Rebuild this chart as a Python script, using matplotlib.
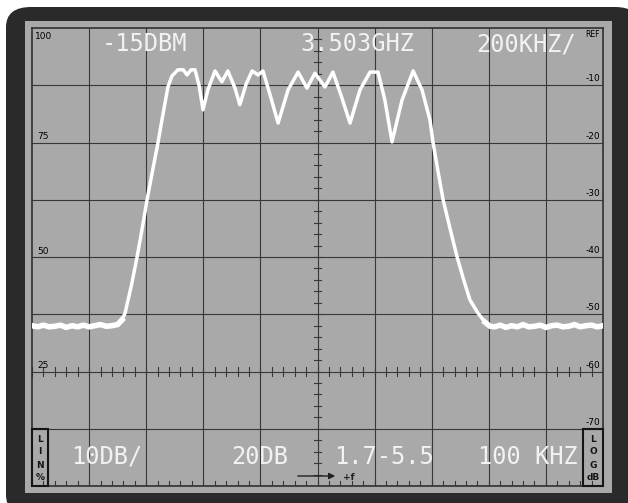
import matplotlib
matplotlib.use("Agg")
import matplotlib.pyplot as plt
from matplotlib.patches import FancyBboxPatch, Rectangle, FancyArrowPatch
import numpy as np

# trace: frequency offset from 3.503 GHz (kHz), level rel. REF (dB)
noise_left_khz = [-1000, -980, -960, -940, -920, -900, -880, -860, -840, -820,
                  -800, -780, -760, -740, -720, -700, -685]
noise_left_db = [-52.0, -52.2, -51.9, -52.2, -52.1, -51.9, -52.3, -52.0, -52.2,
                 -51.9, -52.2, -52.0, -51.8, -52.1, -52.0, -51.8, -51.0]

signal_khz = [-685, -674, -652, -632, -614, -597, -578, -559, -545, -524, -510,
              -489, -470, -457, -443, -429, -415, -401, -384, -359, -335, -314,
              -289, -272, -250, -229, -208, -191, -166, -138, -103, -68, -37,
              -9, 26, 54, 82, 114, 149, 184, 212, 236, 261, 296, 335, 366,
              394, 405, 422, 440, 464, 489, 512, 534, 562, 587]
signal_db = [-51.0, -49.8, -45.0, -40.0, -35.0, -30.0, -25.0, -20.1, -16.1,
             -10.3, -8.4, -7.3, -7.3, -8.2, -7.3, -7.3, -10.0, -14.3, -10.8,
             -7.5, -9.4, -7.5, -10.5, -13.4, -9.8, -7.5, -8.2, -7.5, -11.7,
             -16.6, -10.8, -7.7, -10.5, -7.9, -10.3, -7.7, -11.7, -16.6,
             -10.8, -7.7, -7.7, -12.6, -19.9, -12.6, -7.5, -10.8, -16.1,
             -20.1, -25.0, -30.0, -35.0, -40.0, -44.0, -47.5, -49.8, -51.4]

noise_right_khz = [587, 604, 620, 640, 660, 680, 700, 720, 740, 760, 780, 800,
                   820, 840, 860, 880, 900, 920, 940, 960, 980, 1000]
noise_right_db = [-51.4, -52.1, -52.2, -51.9, -52.3, -52.0, -52.2, -51.8,
                  -52.2, -52.1, -51.9, -52.3, -52.0, -51.9, -52.2, -52.1,
                  -51.8, -52.2, -52.0, -51.9, -52.2, -52.0]

ref_labels = ["-10", "-20", "-30", "-40", "-50", "-60", "-70"]
lin_labels = ["100", "75", "50", "25"]

W, H = 628, 503
fig = plt.figure(figsize=(W / 100, H / 100), dpi=100)
fig.patch.set_facecolor("white")


def fx(px):
    return px / W


def fy(py):
    return 1 - py / H


# dark bezel and grey screen
fig.patches.append(FancyBboxPatch((fx(6), fy(515)), fx(640) - fx(6), fy(7) - fy(515),
                                  boxstyle="round,pad=0,rounding_size=0.04",
                                  transform=fig.transFigure, facecolor="#2a2a2a",
                                  edgecolor="none", zorder=0))
fig.patches.append(Rectangle((fx(25), fy(493)), fx(612) - fx(25), fy(21) - fy(493),
                             transform=fig.transFigure, facecolor="#a9a9a9",
                             edgecolor="none", zorder=1))

ax = fig.add_axes([fx(32), fy(486), fx(603) - fx(32), fy(28) - fy(486)])
ax.set_zorder(2)
ax.set_facecolor("#a9a9a9")
ax.set_xlim(-1000, 1000)
ax.set_ylim(-80, 0)
ax.set_xticks([])
ax.set_yticks([])
for s in ax.spines.values():
    s.set_color("#303030")
    s.set_linewidth(1.2)

grid_c = "#383838"
for gx in np.arange(-800, 1000, 200):
    ax.axvline(gx, color=grid_c, lw=0.8, zorder=1)
for gy in np.arange(-70, 0, 10):
    ax.axhline(gy, color=grid_c, lw=0.8, zorder=1)

# graticule minor ticks on centre lines and bottom edge
for t in np.arange(-80, 0, 2):
    ax.plot([-14, 14], [t, t], color=grid_c, lw=0.8, zorder=1)
for t in np.arange(-1000, 1001, 40):
    ax.plot([t, t], [-60.7, -59.3], color=grid_c, lw=0.8, zorder=1)
    ax.plot([t, t], [-80, -79.1], color=grid_c, lw=0.8, zorder=1)

# trace: noise floor drawn thicker, as on the screen
ax.plot(noise_left_khz, noise_left_db, color="white", lw=4.0,
        solid_joinstyle="round", zorder=3)
ax.plot(noise_right_khz, noise_right_db, color="white", lw=4.0,
        solid_joinstyle="round", zorder=3)
ax.plot(signal_khz, signal_db, color="white", lw=2.5, solid_joinstyle="round",
        solid_capstyle="round", zorder=3)

# scale labels
small = dict(fontsize=6.5, color="black", family="DejaVu Sans")
ax.text(-990, -1.4, "100", ha="left", va="center", **small)
for i, lab in enumerate(lin_labels[1:]):
    ax.text(-980, -20 - 20 * i + 1.0, lab, ha="left", va="center", **small)
ax.text(990, -1.2, "REF", ha="right", va="center", fontsize=5.5, color="black")
for i, lab in enumerate(ref_labels):
    ax.text(990, -10 - 10 * i + 1.1, lab, ha="right", va="center", **small)

# readout text
big = dict(fontsize=17, color="#f2f2f2", family="DejaVu Sans Mono", va="center", zorder=4)
fig.text(fx(145), fy(44), "-15DBM", ha="center", **big)
fig.text(fx(357), fy(44), "3.503GHZ", ha="center", **big)
fig.text(fx(526), fy(44), "200KHZ/", ha="center", **big)
fig.text(fx(107), fy(457), "10DB/", ha="center", **big)
fig.text(fx(260), fy(457), "20DB", ha="center", **big)
fig.text(fx(384), fy(457), "1.7-5.5", ha="center", **big)
fig.text(fx(528), fy(457), "100 KHZ", ha="center", **big)

# mode boxes
for x0, x1, letters in [(32, 48, ["L", "I", "N", "%"]), (583, 603, ["L", "O", "G", "dB"])]:
    fig.patches.append(Rectangle((fx(x0), fy(486)), fx(x1) - fx(x0), fy(429) - fy(486),
                                 transform=fig.transFigure, facecolor="none",
                                 edgecolor="#151515", lw=1.5, zorder=5))
    for k, ch in enumerate(letters):
        fig.text(fx((x0 + x1) / 2), fy(439 + 13 * k), ch, ha="center", va="center",
                 fontsize=6.5, fontweight="bold", color="#151515", zorder=6)

# +f arrow
fig.patches.append(FancyArrowPatch(
    (fx(295), fy(476)), (fx(338), fy(476)), transform=fig.transFigure,
    arrowstyle="-|>", mutation_scale=9, color="#202020", lw=1.0, zorder=5))
fig.text(fx(349), fy(477), "+f", ha="center", va="center", fontsize=6.5,
         color="#202020", fontweight="bold")

fig.savefig("out.png", dpi=100, facecolor=fig.get_facecolor())
